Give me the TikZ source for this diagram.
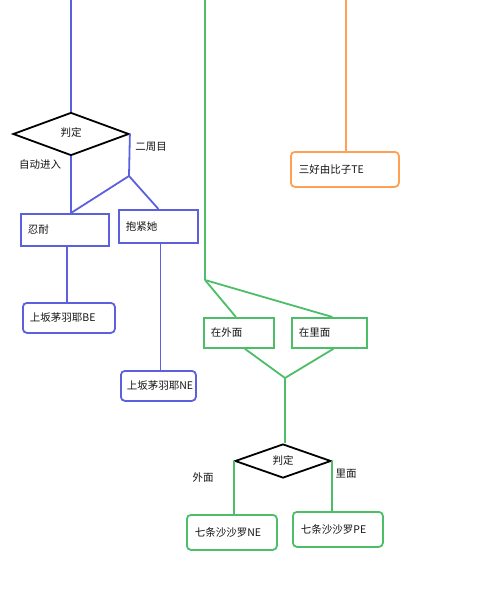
\documentclass[tikz,border=0pt]{standalone}
\usepackage{fontspec}
\setmainfont{Noto Sans CJK SC}
\usetikzlibrary{shapes.geometric,calc}
\definecolor{blueL}{RGB}{92,96,222}
\definecolor{greenL}{RGB}{76,190,104}
\definecolor{orangeL}{RGB}{255,160,82}
\definecolor{txt}{RGB}{20,20,20}
\begin{document}
\begin{tikzpicture}[x=1pt,y=-1pt,
  font=\fontsize{10.5}{12}\selectfont, text=txt,
  ln/.style={line width=1.8pt},
  box/.style={draw, line width=1.8pt, inner xsep=7pt, inner ysep=0pt, align=left, anchor=north west},
  endbox/.style={box, rounded corners=4pt},
  dec/.style={diamond, draw=black, line width=1.8pt, inner sep=0pt},
  lab/.style={inner sep=0pt}]
\useasboundingbox (0,0) rectangle (482,610);

% ---------- blue branch ----------
\coordinate (btop) at (71,0);
\node[dec, minimum width=116pt, minimum height=43pt] (d1) at (71,134) {\raisebox{3pt}{判定}};
\coordinate (bsplit) at (129,176);
\node[box, draw=blueL, text width=74pt, minimum height=32pt] (rn) at (20,213) {忍耐};
\node[box, draw=blueL, text width=65pt, minimum height=33pt] (bjt) at (118,209) {抱紧她};
\node[endbox, draw=blueL, text width=78pt, minimum height=30pt] (be) at (22,302) {上坂茅羽耶BE};
\node[endbox, draw=blueL, text width=63pt, minimum height=30pt, inner xsep=6pt] (ne1) at (120,370) {上坂茅羽耶NE};
\node[lab] (l1) at (40,165) {自动进入};
\node[lab] (l2) at (151,147) {二周目};

\draw[ln, blueL] (btop) -- (d1.north);
\draw[ln, blueL] (d1.south) -- (d1.south |- rn.north);
\draw[ln, blueL] (d1.east) -- (bsplit);
\draw[ln, blueL] (bsplit) -- (d1.south |- rn.north);
\draw[ln, blueL] (bsplit) -- (bjt.north);
\draw[ln, blueL] ([xshift=2pt]rn.south) -- ([xshift=2pt]rn.south |- be.north);
\draw[ln, blueL] ([xshift=2pt]bjt.south) -- ([xshift=2pt]bjt.south |- ne1.north);

% ---------- green branch ----------
\coordinate (gtop) at (205,0);
\coordinate (gsplit) at (205,280);
\node[box, draw=greenL, text width=56pt, minimum height=30pt] (out) at (203,317) {在外面};
\node[box, draw=greenL, text width=61pt, minimum height=30pt] (inn) at (291,317) {在里面};
\coordinate (gjoin) at (285,378);
\node[dec, minimum width=96pt, minimum height=34pt] (d2) at (283,461) {\raisebox{2pt}{判定}};
\node[endbox, draw=greenL, text width=74pt, minimum height=35pt, inner xsep=8pt] (ne2) at (186,514) {七条沙沙罗NE};
\node[endbox, draw=greenL, text width=74pt, minimum height=35pt, inner xsep=8pt] (pe) at (292,511) {七条沙沙罗PE};
\node[lab] (l3) at (203,477) {外面};
\node[lab] (l4) at (346,474) {里面};

\draw[ln, greenL] (gtop) -- (gsplit);
\draw[ln, greenL] (gsplit) -- ([xshift=-3pt]out.north);
\draw[ln, greenL] (gsplit) -- ([xshift=3pt]inn.north);
\draw[ln, greenL] ([xshift=6pt]out.south) -- (gjoin);
\draw[ln, greenL] ([xshift=4pt]inn.south) -- (gjoin);
\draw[ln, greenL] (gjoin) -- (gjoin |- d2.north);
\draw[ln, greenL] (d2.west) -- (d2.west |- ne2.north);
\draw[ln, greenL] (d2.east) -- (d2.east |- pe.north);

% ---------- orange branch ----------
\coordinate (otop) at (346,0);
\node[endbox, draw=orangeL, text width=92pt, minimum height=35pt, inner xsep=8pt] (te) at (290,151) {三好由比子TE};
\draw[ln, orangeL] (otop) -- (otop |- te.north);
\end{tikzpicture}
\end{document}
